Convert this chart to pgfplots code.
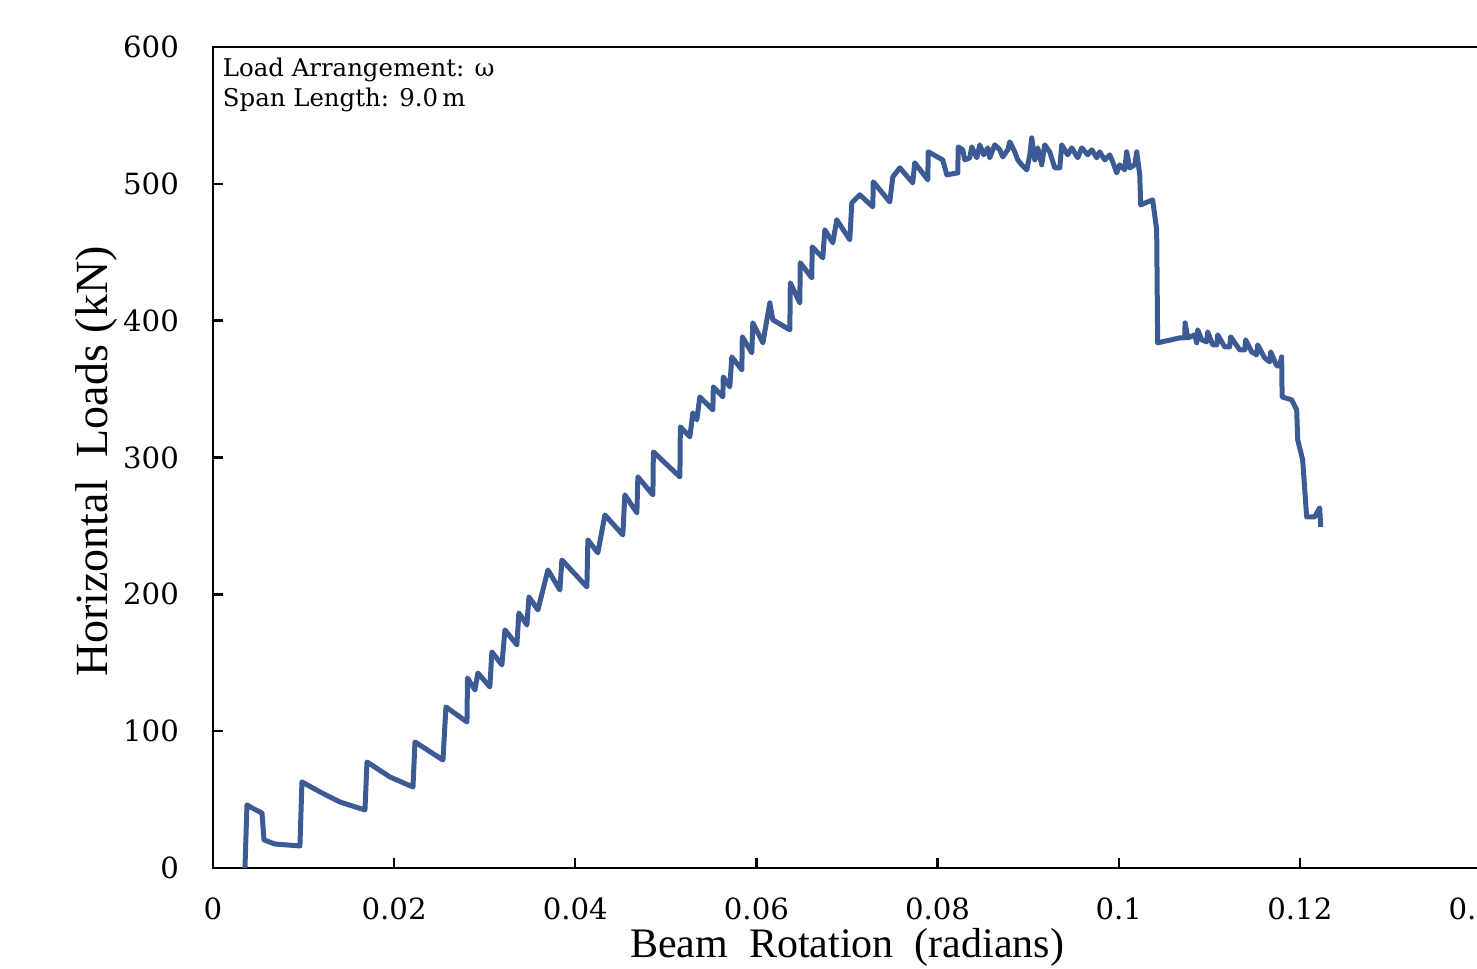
\documentclass[border=0pt]{standalone}
\usepackage{fontspec}
\setmainfont{Liberation Serif}
\newfontfamily\tickfont{DejaVu Serif}
\usepackage{pgfplots}
\pgfplotsset{compat=1.18}
\definecolor{curve}{HTML}{3C5A94}
\begin{document}
\begin{tikzpicture}
\begin{axis}[
  scale only axis,
  width=317pt, height=205.25pt,
  xmin=0, xmax=0.14, ymin=0, ymax=600,
  axis line style={black, line width=0.7pt},
  tick style={black, line width=0.6pt},
  tick align=inside,
  tick pos=left,
  major tick length=2.5pt,
  xtick={0,0.02,0.04,0.06,0.08,0.1,0.12,0.14},
  xticklabels={0,0.02,0.04,0.06,0.08,0.1,0.12,0.14},
  ytick={0,100,200,300,400,500,600},
  yticklabels={0,100,200,300,400,500,600},
  /pgf/number format/assume math mode=true,
  ticklabel style={font=\tickfont\fontsize{7.3}{8}\selectfont},
  xticklabel style={yshift=-4pt},
  yticklabel style={xshift=-5pt},
  xlabel={Beam\ \ Rotation\ \ (radians)},
  ylabel={Horizontal\ \ Loads\ (kN)},
  xlabel style={font=\fontsize{10.5}{12}\selectfont, at={(ticklabel cs:0.5)}, anchor=north, yshift=4.8pt},
  ylabel style={font=\fontsize{11.5}{12}\selectfont, at={(ticklabel cs:0.495)}, anchor=south, yshift=-5.5pt},
  clip=false,
]
\addplot[curve, line width=1.25pt, line join=round] coordinates {
(0.00353,0) (0.00375,46.1) (0.00430,43.9) (0.00541,40.2) (0.00563,20.5) (0.00684,17.5) (0.00960,16.1)
(0.00982,62.9) (0.01181,55.6) (0.01402,48.2) (0.01678,42.4) (0.01700,77.5) (0.01954,66.5) (0.02208,59.2)
(0.02230,92.1) (0.02539,78.9) (0.02572,117.7) (0.02804,106.7) (0.02810,138.9) (0.02892,130.1) (0.02925,142.5)
(0.03057,132.3) (0.03079,157.9) (0.03190,148.4) (0.03223,174.0) (0.03355,163.0) (0.03377,186.4) (0.03466,177.6)
(0.03488,198.1) (0.03587,188.6) (0.03698,217.8) (0.03830,203.2) (0.03852,225.1) (0.04128,205.4) (0.04139,239.8)
(0.04249,230.3) (0.04327,258.0) (0.04525,243.4) (0.04547,272.7) (0.04680,259.5) (0.04691,285.8) (0.04857,272.7)
(0.04862,304.1) (0.05155,285.8) (0.05160,322.4) (0.05265,315.1) (0.05298,332.6) (0.05342,327.5) (0.05375,344.3)
(0.05519,334.8) (0.05524,351.6) (0.05629,344.3) (0.05634,358.9) (0.05706,351.6) (0.05728,373.5) (0.05839,364.0)
(0.05844,388.2) (0.05949,376.5) (0.05960,398.4) (0.06071,383.8) (0.06148,413.0) (0.06181,400.6) (0.06369,393.3)
(0.06374,427.6) (0.06479,413.0) (0.06484,442.3) (0.06611,431.3) (0.06616,453.9) (0.06733,445.9) (0.06755,466.4)
(0.06843,456.9) (0.06887,473.7) (0.07031,459.1) (0.07053,486.1) (0.07141,492.0) (0.07285,483.2) (0.07290,501.5)
(0.07472,486.8) (0.07506,505.1) (0.07583,511.7) (0.07726,500.7) (0.07748,515.4) (0.07892,502.9) (0.07897,523.4)
(0.08057,517.5) (0.08102,506.6) (0.08223,508.0) (0.08228,527.0) (0.08278,524.9) (0.08300,517.5) (0.08355,519.0)
(0.08377,527.0) (0.08433,519.0) (0.08466,528.5) (0.08510,521.2) (0.08554,526.3) (0.08576,519.0) (0.08631,528.5)
(0.08687,524.9) (0.08720,519.7) (0.08775,524.9) (0.08797,530.7) (0.08852,523.4) (0.08885,517.5) (0.08929,513.9)
(0.08985,510.2) (0.09018,521.2) (0.09040,533.6) (0.09073,517.5) (0.09106,526.3) (0.09150,513.9) (0.09183,528.5)
(0.09238,523.4) (0.09294,511.7) (0.09349,511.7) (0.09371,528.5) (0.09437,521.2) (0.09481,526.3) (0.09547,519.0)
(0.09592,526.3) (0.09658,521.2) (0.09702,524.9) (0.09757,519.0) (0.09790,523.4) (0.09845,517.5) (0.09901,521.2)
(0.09934,516.1) (0.09978,508.0) (0.10011,513.9) (0.10066,510.2) (0.10088,523.4) (0.10121,511.7) (0.10177,513.9)
(0.10199,523.4) (0.10232,506.6) (0.10243,484.6) (0.10375,488.3) (0.10419,466.4) (0.10430,383.8)
(0.10673,387.4) (0.10728,387.4) (0.10733,398.4) (0.10762,387.4) (0.10839,389.6) (0.10861,383.8) (0.10872,393.3)
(0.10916,386.0) (0.10971,384.5) (0.10982,391.8) (0.11038,382.3) (0.11082,382.3) (0.11093,389.6) (0.11170,380.8)
(0.11225,380.8) (0.11236,388.2) (0.11336,378.7) (0.11391,378.7) (0.11402,386.0) (0.11468,377.2) (0.11523,375.0)
(0.11534,382.3) (0.11611,372.8) (0.11667,369.9) (0.11678,377.2) (0.11744,367.0) (0.11777,367.0) (0.11799,373.5)
(0.11804,344.3) (0.11910,342.1) (0.11965,334.8) (0.11976,312.9) (0.12031,298.2) (0.12075,256.6) (0.12163,256.6)
(0.12219,263.2) (0.12230,249.3)
};
\node[anchor=north west, align=left, inner sep=0pt, font=\tickfont\fontsize{6.1}{7.5}\selectfont]
  at ([xshift=2.3pt, yshift=-2.6pt]rel axis cs:0,1) {Load Arrangement: ω\\Span Length: 9.0\,m};
\end{axis}
\pgfresetboundingbox
\useasboundingbox (-53.25pt,-25.25pt) rectangle (316pt,217pt);
\end{tikzpicture}
\end{document}
